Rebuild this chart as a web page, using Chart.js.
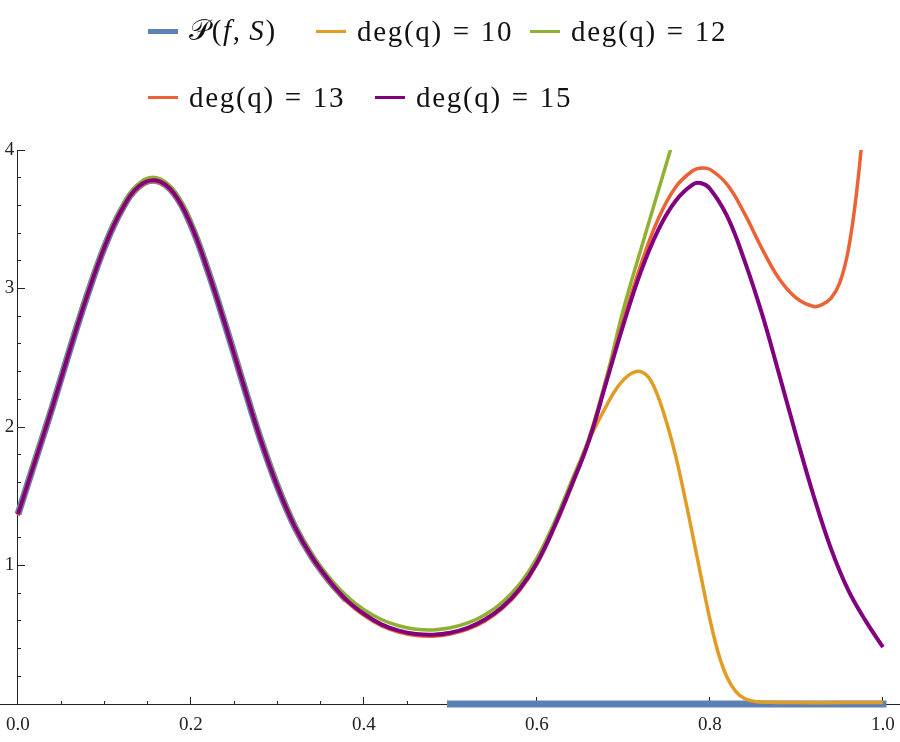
<!DOCTYPE html>
<html>
<head>
<meta charset="utf-8">
<script src="https://cdn.jsdelivr.net/npm/chart.js@4.4.0/dist/chart.umd.min.js"></script>
<style>
html,body{margin:0;padding:0;background:#fff;}
#wrap{position:relative;width:900px;height:742px;overflow:hidden;}
#c{position:absolute;left:0;top:0;}
#legend{position:absolute;left:0;top:0;width:900px;height:130px;font-family:"Liberation Serif",serif;font-size:29px;color:#111;}
.item{position:absolute;display:flex;align-items:center;white-space:nowrap;height:40px;}
.sw{width:30px;margin-right:11px;}
.tx{letter-spacing:1.7px;word-spacing:1px;}
</style>
</head>
<body>
<div id="wrap">
<canvas id="c" width="900" height="742"></canvas>
<div id="legend"></div>
</div>
<script>
// ---- data ----
const sharedX = [0.00,0.02,0.04,0.06,0.08,0.10,0.12,0.14,0.16,0.18,0.20,0.22,0.24,0.26,0.28,0.30,0.32,0.34,0.36,0.38,0.40,0.42,0.44,0.46,0.48,0.50,0.52,0.54,0.56,0.58,0.60,0.62,0.64,0.66];
const sharedY = [1.37,1.76,2.15,2.56,2.95,3.30,3.57,3.74,3.78,3.69,3.46,3.12,2.73,2.32,1.92,1.57,1.28,1.06,0.89,0.75,0.65,0.575,0.53,0.505,0.50,0.515,0.55,0.61,0.70,0.83,1.02,1.28,1.58,1.90];
// deg(q)=12 runs a hair above the others on the shared stretch
const deg12SharedY = [1.38,1.78,2.17,2.58,2.97,3.32,3.59,3.76,3.80,3.71,3.48,3.14,2.75,2.34,1.94,1.59,1.30,1.08,0.91,0.78,0.68,0.61,0.565,0.54,0.535,0.55,0.585,0.645,0.735,0.865,1.055,1.31,1.61,1.92];
// deg(q)=13 runs a hair below
const deg13SharedY = [1.36,1.75,2.14,2.55,2.94,3.29,3.56,3.73,3.77,3.68,3.45,3.11,2.72,2.31,1.91,1.56,1.27,1.05,0.88,0.74,0.64,0.565,0.52,0.495,0.49,0.505,0.54,0.60,0.69,0.82,1.01,1.27,1.57,1.90];

const blueCurveEnd = 0.38;
const blueBarX = [0.5, 1.0];
const blueBarY = [0, 0];

const deg10X = [0.68,0.69,0.70,0.71,0.72,0.73,0.74,0.75,0.76,0.77,0.78,0.79,0.80,0.81,0.82,0.83,0.84,0.85,0.87,0.90,0.95,1.00];
const deg10Y = [2.15,2.26,2.34,2.39,2.40,2.35,2.22,2.03,1.80,1.52,1.22,0.91,0.61,0.36,0.19,0.09,0.04,0.02,0.012,0.01,0.01,0.01];

const deg12X = [0.68,0.70,0.72,0.74,0.76];
const deg12Y = [2.35,2.85,3.28,3.70,4.12];

const deg13X = [0.68,0.70,0.72,0.74,0.76,0.78,0.79,0.80,0.82,0.84,0.86,0.88,0.90,0.92,0.93,0.94,0.95,0.96,0.97,0.98];
const deg13Y = [2.33,2.77,3.17,3.50,3.73,3.85,3.87,3.86,3.75,3.54,3.29,3.07,2.93,2.87,2.885,2.93,3.04,3.28,3.72,4.35];

const deg15X = [0.68,0.70,0.72,0.74,0.76,0.78,0.79,0.80,0.82,0.84,0.86,0.88,0.90,0.92,0.94,0.96,0.98,1.00];
const deg15Y = [2.32,2.74,3.12,3.42,3.63,3.75,3.76,3.72,3.52,3.20,2.82,2.38,1.93,1.50,1.12,0.82,0.60,0.41];

const seriesLabels = ['\u{1D4AB}(<i>f</i>,\u2009<i>S</i>)', 'deg(q) = 10', 'deg(q) = 12', 'deg(q) = 13', 'deg(q) = 15'];

const xMajorTicks = [0.0, 0.2, 0.4, 0.6, 0.8, 1.0];
const xMinorTicks = [0.05,0.1,0.15,0.25,0.3,0.35,0.45,0.5,0.55,0.65,0.7,0.75,0.85,0.9,0.95];
const yMajorTicks = [1, 2, 3, 4];
const yMinorTicks = [0.2,0.4,0.6,0.8,1.2,1.4,1.6,1.8,2.2,2.4,2.6,2.8,3.2,3.4,3.6,3.8];

// ---- helpers ----
const pts = (xs, ys) => xs.map((x, i) => ({x, y: ys[i]}));
const shared = pts(sharedX, sharedY);
const withTail = (xs, ys) => shared.concat(pts(xs, ys));

const colors = ['#5E81B5', '#E19C24', '#8FB032', '#EB6235', '#800080'];
const lineClip = {left: 5, right: 5, top: 0, bottom: 5};

const datasets = [
  {label: 'P(f,S)', data: shared.filter(p => p.x <= blueCurveEnd), borderColor: colors[0], borderWidth: 7,
   order: 6, borderCapStyle: 'butt', clip: lineClip},
  {label: 'P(f,S)', data: pts(blueBarX, blueBarY), borderColor: colors[0], borderWidth: 7,
   order: 5, borderCapStyle: 'square', clip: {left: 8, right: 8, top: 0, bottom: 8}},
  {label: 'deg(q) = 10', data: withTail(deg10X, deg10Y), borderColor: colors[1], borderWidth: 3.5, order: 2, clip: lineClip},
  {label: 'deg(q) = 12', data: pts(sharedX, deg12SharedY).concat(pts(deg12X, deg12Y)), borderColor: colors[2], borderWidth: 3.5, order: 4, clip: lineClip},
  {label: 'deg(q) = 13', data: pts(sharedX, deg13SharedY).concat(pts(deg13X, deg13Y)), borderColor: colors[3], borderWidth: 3.5, order: 3, clip: lineClip},
  {label: 'deg(q) = 15', data: withTail(deg15X, deg15Y), borderColor: colors[4], borderWidth: 4, order: 1, clip: lineClip}
];

const X_MIN = -0.0208, X_MAX = 1.0197;
const tickFont = {family: '"Liberation Serif", serif', size: 19};
const axisColor = '#222';
const noPad = s => { s.paddingLeft = 0; s.paddingRight = 0; s.paddingTop = 0; s.paddingBottom = 0; };

new Chart(document.getElementById('c'), {
  type: 'line',
  data: {datasets},
  options: {
    responsive: false,
    animation: false,
    spanGaps: false,
    layout: {padding: {top: 150, bottom: 38, left: 0, right: 0}},
    plugins: {legend: {display: false}, tooltip: {enabled: false}},
    elements: {point: {radius: 0}, line: {tension: 0.4, borderJoinStyle: 'round', fill: false}},
    scales: {
      x: {
        type: 'linear', min: X_MIN, max: X_MAX, position: {y: 0},
        afterBuildTicks: s => { s.ticks = xMinorTicks.map(v => ({value: v})); },
        afterFit: noPad,
        ticks: {display: false},
        grid: {drawOnChartArea: false, tickLength: -4, tickColor: axisColor, tickWidth: 1},
        border: {display: true, color: axisColor, width: 1}
      },
      xMaj: {
        type: 'linear', axis: 'x', min: X_MIN, max: X_MAX, position: {y: 0},
        afterBuildTicks: s => { s.ticks = xMajorTicks.map(v => ({value: v})); },
        afterFit: noPad,
        ticks: {display: true, padding: 17, font: tickFont, color: axisColor, maxRotation: 0,
                callback: v => Number(v).toFixed(1)},
        grid: {drawOnChartArea: false, tickLength: -7, tickColor: axisColor, tickWidth: 1},
        border: {display: false}
      },
      y: {
        type: 'linear', min: 0, max: 4, position: {x: 0},
        afterBuildTicks: s => { s.ticks = yMinorTicks.map(v => ({value: v})); },
        afterFit: noPad,
        ticks: {display: false},
        grid: {drawOnChartArea: false, tickLength: -4, tickColor: axisColor, tickWidth: 1},
        border: {display: true, color: axisColor, width: 1}
      },
      yMaj: {
        type: 'linear', axis: 'y', min: 0, max: 4, position: {x: 0},
        afterBuildTicks: s => { s.ticks = yMajorTicks.map(v => ({value: v})); },
        afterFit: noPad,
        ticks: {display: true, padding: 6, font: tickFont, color: axisColor,
                callback: v => String(v) + '\u2009'},
        grid: {drawOnChartArea: false, tickLength: -7, tickColor: axisColor, tickWidth: 1},
        border: {display: false}
      }
    }
  }
});

// ---- HTML legend (two rows, as in the reference) ----
const legend = document.getElementById('legend');
const legendSlots = [[148, 11], [316, 11], [530, 11], [148, 77], [375, 77]];
legendSlots.forEach(([left, top], i) => {
  const it = document.createElement('div');
  it.className = 'item';
  it.style.left = left + 'px';
  it.style.top = top + 'px';
  const sw = document.createElement('div');
  sw.className = 'sw';
  sw.style.borderTop = (i === 0 ? 5 : 3) + 'px solid ' + colors[i];
  const tx = document.createElement('span');
  tx.className = 'tx';
  tx.innerHTML = seriesLabels[i];
  it.appendChild(sw); it.appendChild(tx);
  legend.appendChild(it);
});
</script>
</body>
</html>
